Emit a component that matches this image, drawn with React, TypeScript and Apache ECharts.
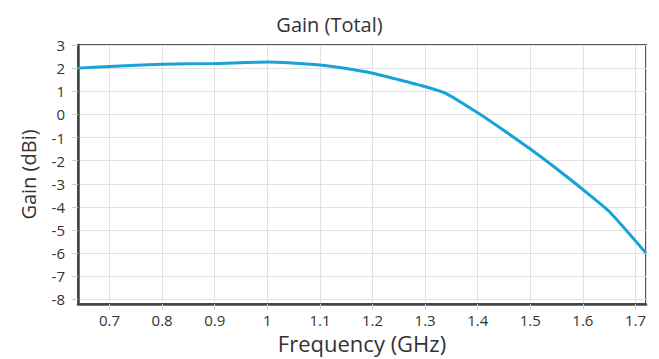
import React, { useEffect, useRef } from "react";
import * as echarts from "echarts";

const frequencies = [0.64, 0.7, 0.8, 0.9, 1.0, 1.1, 1.15, 1.2, 1.25, 1.3, 1.34, 1.4, 1.45, 1.5, 1.55, 1.6, 1.65, 1.72];
const gains = [2.0, 2.07, 2.17, 2.2, 2.26, 2.13, 1.98, 1.78, 1.5, 1.2, 0.9, 0.07, -0.7, -1.5, -2.35, -3.25, -4.2, -6.0];

const titleText = "Gain (Total)";
const xName = "Frequency (GHz)";
const yName = "Gain (dBi)";

export default function App() {
  const ref = useRef<HTMLDivElement>(null);
  useEffect(() => {
    if (!ref.current) return;
    const chart = echarts.init(ref.current, null, { renderer: "svg" });
    const font = "'Open Sans', 'Noto Sans', sans-serif";
    chart.setOption({
      animation: false,
      textStyle: { fontFamily: font },
      title: {
        text: titleText,
        left: "center",
        top: 9,
        textStyle: { fontSize: 20, fontWeight: "normal", color: "#333", fontFamily: font },
      },
      grid: {
        left: 78,
        right: 13,
        top: 45,
        bottom: 53,
        show: true,
        borderColor: "#555",
        borderWidth: 2,
      },
      xAxis: {
        type: "value",
        min: 0.64,
        max: 1.72,
        splitNumber: 11,
        name: xName,
        nameLocation: "middle",
        nameGap: 28,
        nameTextStyle: { fontSize: 22, color: "#333", fontFamily: font },
        axisLine: { show: true, onZero: false, lineStyle: { color: "#444", width: 2.5 } },
        axisTick: { show: true, length: 5, lineStyle: { color: "#ccc" } },
        axisLabel: {
          showMinLabel: false,
          showMaxLabel: false,
          fontSize: 15,
          color: "#333",
          margin: 8,
          fontFamily: font,
        },
        splitLine: { show: true, lineStyle: { color: "#e2e2e2", width: 1 } },
      },
      yAxis: {
        type: "value",
        min: -8.2,
        max: 3,
        splitNumber: 11,
        name: yName,
        nameLocation: "middle",
        nameGap: 40,
        nameTextStyle: { fontSize: 20, color: "#333", fontFamily: font },
        axisLine: { show: true, onZero: false, lineStyle: { color: "#444", width: 2.5 } },
        axisTick: { show: true, length: 6, lineStyle: { color: "#ccc" } },
        axisLabel: {
          showMinLabel: false,
          fontSize: 15,
          color: "#333",
          margin: 13,
          fontFamily: font,
        },
        splitLine: { show: true, lineStyle: { color: "#e2e2e2", width: 1 } },
      },
      series: [
        {
          type: "line",
          data: frequencies.map((f, i) => [f, gains[i]]),
          showSymbol: false,
          symbol: "none",
          smooth: 0.2,
          lineStyle: { color: "#17a2d8", width: 3 },
        },
      ],
    });
    return () => chart.dispose();
  }, []);
  return (
    <div
      ref={ref}
      style={{ position: "fixed", left: 0, top: 0, width: 659, height: 359, background: "#fff" }}
    />
  );
}
